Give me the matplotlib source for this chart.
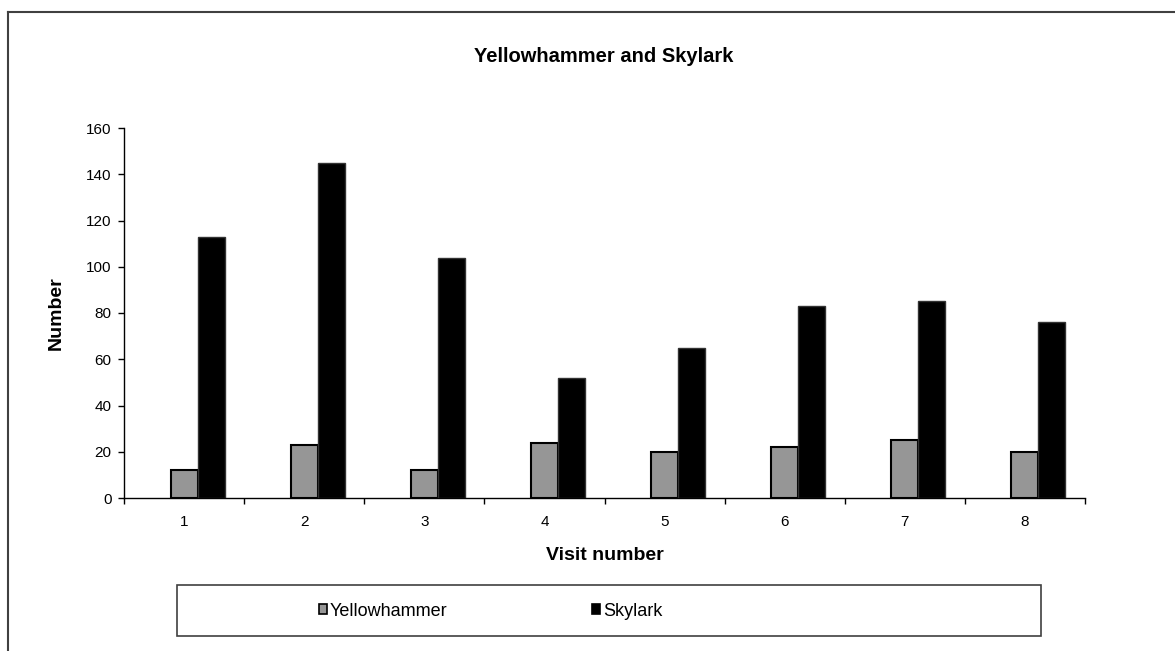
import numpy as np
import matplotlib.pyplot as plt
from matplotlib.lines import Line2D
from matplotlib.patches import Rectangle, Patch

plt.rcParams['font.family'] = ['Liberation Sans', 'DejaVu Sans']

visits = [1, 2, 3, 4, 5, 6, 7, 8]
yellowhammer = [12, 23, 12, 24, 20, 22, 25, 20]
skylark = [113, 145, 104, 52, 65, 83, 85, 76]

W, H = 1175, 651
fig = plt.figure(figsize=(W / 100, H / 100), dpi=100)

# outer chart border (top and left sides visible only)
fig.add_artist(Line2D([8 / W, 8 / W], [0, 1 - 12 / H], color='#404040', lw=1.5))
fig.add_artist(Line2D([8 / W, 1], [1 - 12 / H, 1 - 12 / H], color='#404040', lw=1.5))

ax = fig.add_axes([124 / W, 1 - 498 / H, (1085 - 124) / W, (498 - 128) / H])

x = np.array(visits)
bw = 0.225
ax.bar(x, yellowhammer, bw, color='#969696', edgecolor='black', lw=1.5, label='Yellowhammer')
ax.bar(x + bw, skylark, bw, color='black', edgecolor='#333333', lw=1, label='Skylark')

ax.set_xlim(0.5, 8.5)
ax.set_ylim(0, 160)
ax.set_yticks(range(0, 161, 20))
ax.set_xticks(x)
ax.set_xticks(np.arange(0.5, 9, 1), minor=True)
ax.tick_params(axis='x', which='major', length=0, pad=12, labelsize=11)
ax.tick_params(axis='x', which='minor', length=4, direction='out', width=1)
ax.tick_params(axis='y', length=4, width=1, pad=5, labelsize=11)

for s in ['top', 'right']:
    ax.spines[s].set_visible(False)
for s in ['left', 'bottom']:
    ax.spines[s].set_linewidth(1)

ax.set_xlabel('Visit number', fontsize=14, fontweight='bold', labelpad=13)
ax.set_ylabel('Number', fontsize=14, fontweight='bold', labelpad=15)
fig.text(604 / W, 1 - 57 / H, 'Yellowhammer and Skylark', fontsize=14.5,
         fontweight='bold', ha='center', va='center')

# legend box
fig.add_artist(Rectangle((177 / W, 1 - 636 / H), (1041 - 177) / W, 51 / H,
                         transform=fig.transFigure, fill=False,
                         edgecolor='#404040', lw=1.2))
handles = [Patch(facecolor='#969696', edgecolor='black', lw=1.2),
           Patch(facecolor='black', edgecolor='black', lw=1.2)]
fig.legend(handles, ['Yellowhammer', 'Skylark'], loc='center left',
           bbox_to_anchor=(319 / W, 1 - 611 / H), ncol=2, frameon=False,
           fontsize=13, handlelength=0.45, handleheight=0.45, handletextpad=0.15,
           columnspacing=8.0, borderpad=0, borderaxespad=0)

fig.savefig('out.png', dpi=100)
